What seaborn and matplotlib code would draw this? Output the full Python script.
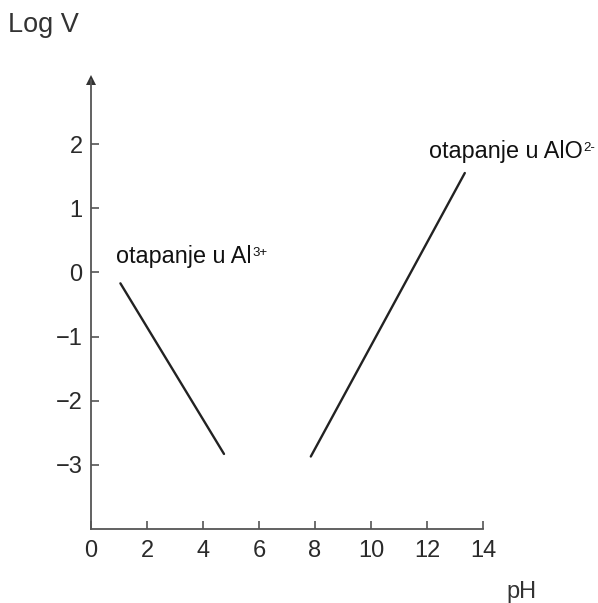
import numpy as np
import pandas as pd
import seaborn as sns
import matplotlib.pyplot as plt
from matplotlib.transforms import offset_copy

# dados (pH, log V)
ph_al3 = [1.05, 4.75]
logv_al3 = [-0.17, -2.83]

ph_alo2 = [7.85, 13.35]
logv_alo2 = [-2.87, 1.55]

xticks = [0, 2, 4, 6, 8, 10, 12, 14]
yticks = [-3, -2, -1, 0, 1, 2]

sns.set_style('white')
plt.rcParams['font.family'] = ['Liberation Sans', 'DejaVu Sans']

df = pd.concat([
    pd.DataFrame({'pH': ph_al3, 'logV': logv_al3, 'grana': 'Al3+'}),
    pd.DataFrame({'pH': ph_alo2, 'logV': logv_alo2, 'grana': 'AlO2-'}),
])

fig = plt.figure(figsize=(5.98, 6.03), dpi=100)
ax = fig.add_axes([91 / 598, 1 - 529 / 603, 392 / 598, 449 / 603])

sns.lineplot(data=df, x='pH', y='logV', units='grana', estimator=None,
             color='#222222', linewidth=1.7, ax=ax, legend=False)

ax.set_xlim(0, 14)
ax.set_ylim(-4, 3)
ax.set_xticks(xticks)
ax.set_yticks(yticks)
ax.set_xlabel('')
ax.set_ylabel('')

for s in ['top', 'right']:
    ax.spines[s].set_visible(False)
for s in ['left', 'bottom']:
    ax.spines[s].set_color('#555555')
    ax.spines[s].set_linewidth(1.3)

ax.tick_params(axis='both', direction='in', length=6, width=1.2,
               bottom=True, left=True,
               colors='#555555', labelcolor='#2a2a2a', labelsize=17)
ax.tick_params(axis='y', pad=6)
ax.tick_params(axis='x', pad=8)

# strelica na y osi
ax.plot(0, 3, marker='^', markersize=7, color='#333333', clip_on=False,
        markeredgewidth=0)


# natpis s eksponentom
def natpis(x, y, osnova, eksponent):
    t = ax.text(x, y, osnova, fontsize=16.8, color='#111111',
                ha='left', va='baseline')
    fig.canvas.draw()
    bb = t.get_window_extent()
    x_kraj, _ = ax.transData.inverted().transform((bb.x1, bb.y0))
    tr = offset_copy(ax.transData, fig=fig, x=0.5, y=5.5, units='points')
    ax.text(x_kraj, y, eksponent, fontsize=9.5, color='#111111',
            ha='left', va='baseline', transform=tr)


natpis(0.89, 0.14, 'otapanje u Al', '3+')
natpis(12.07, 1.78, 'otapanje u AlO', '2-')

fig.text(8 / 598, 1 - 32 / 603, 'Log V', fontsize=19.5, color='#333333',
         ha='left', va='baseline')
fig.text(522 / 598, 1 - 598 / 603, 'pH', fontsize=17, color='#333333',
         ha='center', va='baseline')

fig.savefig('out.png', dpi=100)
